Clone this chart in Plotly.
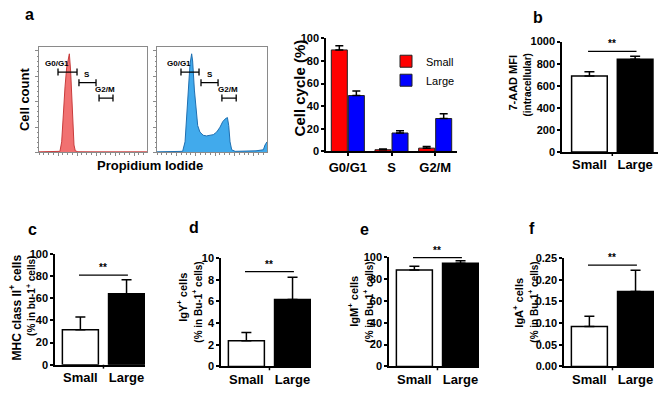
import plotly.graph_objects as go

# ---------------- data ----------------
# flow-cytometry histograms (PI axis 0-100, relative cell count 0-100)
hist_small_x = [0, 10, 18, 19.4, 21.0, 22.5, 24.1, 25.6, 27.2, 28.1, 29.3, 30.2, 31.2, 32.4, 33.6, 36, 50, 70, 100]
hist_small_y = [0.5, 0.5, 0.6, 1.0, 10, 37.6, 62, 80, 89.6, 93.3, 77, 53, 25.4, 7, 1.5, 0.6, 0.5, 0.5, 0.5]
hist_large_x = [0, 10, 20, 23.3, 25.5, 27, 28.5, 30, 31.5, 32.4, 34, 35.5, 37, 39, 42, 45, 48.2, 51.2, 54.3, 57.3,
                59.7, 61.8, 64, 65.2, 66.4, 67.9, 71, 80, 90, 96.7, 98.2, 100]
hist_large_y = [0.5, 0.5, 0.6, 1.0, 10, 34.6, 62, 83.5, 93.3, 86.5, 59, 37.6, 25.4, 19.3, 16.2, 15.6, 15.9, 16.8, 19.3, 23.9,
                29, 31.5, 33, 25.4, 10, 2.5, 1, 1.2, 1.5, 2.5, 7, 10]

gate_names = ["G0/G1", "S", "G2/M"]
gate_small_x0 = [17.6, 37.0, 55.6]
gate_small_x1 = [35.2, 52.8, 68.5]
gate_large_x0 = [21.8, 40.0, 59.0]
gate_large_x1 = [38.2, 55.5, 72.0]
gate_y = [76, 66, 51.4]

phases = ["G0/G1", "S", "G2/M"]
cycle_small = [89.7, 1.5, 2.9]
cycle_small_err = [3.7, 0.7, 1.4]
cycle_large = [49.4, 16.3, 29.1]
cycle_large_err = [4.0, 2.0, 4.3]

groups = ["Small", "Large"]
mfi = [688, 839]
mfi_err = [40, 29]
mhc = [31.5, 64.0]
mhc_err = [11.5, 12.7]
igy = [2.36, 6.18]
igy_err = [0.77, 2.06]
igm = [88.2, 94.4]
igm_err = [3.5, 2.3]
iga = [0.092, 0.173]
iga_err = [0.024, 0.049]
sig_levels = [912, 80.8, 8.75, 99.6, 0.2336]

# ---------------- layout helpers ----------------
W, H = 660, 394
FONT = "Arial, Liberation Sans, sans-serif"


def fx(p):
    return p / W


def fy(p):
    return 1 - p / H


fig = go.Figure()

# histograms
hist_colors = [("rgba(240,105,105,0.95)", "#c83c3c"), ("rgba(55,165,235,0.95)", "#1f6fb0")]
for i, (hx, hy, gx0, gx1) in enumerate([
        (hist_small_x, hist_small_y, gate_small_x0, gate_small_x1),
        (hist_large_x, hist_large_y, gate_large_x0, gate_large_x1)]):
    ax = "" if i == 0 else "2"
    fill, line = hist_colors[i]
    fig.add_trace(go.Scatter(x=hx, y=hy, mode="lines", fill="tozeroy", fillcolor=fill,
                             line=dict(color=line, width=1), showlegend=False,
                             xaxis="x" + ax, yaxis="y" + ax, hoverinfo="skip"))
    gxs, gys = [], []
    for a, b, yy in zip(gx0, gx1, gate_y):
        gxs += [a, b, None]
        gys += [yy, yy, None]
    fig.add_trace(go.Scatter(x=gxs, y=gys, mode="lines+markers",
                             line=dict(color="black", width=1.3),
                             marker=dict(symbol="line-ns-open", size=5, line=dict(color="black", width=1.3)),
                             showlegend=False, xaxis="x" + ax, yaxis="y" + ax, hoverinfo="skip"))
    for name, a, b, yy in zip(gate_names, gx0, gx1, gate_y):
        off = {"G0/G1": -10, "S": 0, "G2/M": -1}[name]
        fig.add_annotation(x=(a + b) / 2 + off, y=yy, xref="x" + ax, yref="y" + ax, text=name,
                           showarrow=False, yanchor="bottom", yshift=2,
                           font=dict(family=FONT, size=8, color="black", weight="bold"))

# cell cycle bars
fig.add_trace(go.Bar(x=phases, y=cycle_small, name="Small", marker=dict(color="#ff0000", line=dict(color="#202020", width=1)),
                     error_y=dict(type="data", array=cycle_small_err, arrayminus=[0] * 3, symmetric=False,
                                  color="black", thickness=1.5, width=4),
                     xaxis="x3", yaxis="y3"))
fig.add_trace(go.Bar(x=phases, y=cycle_large, name="Large", marker=dict(color="#0000ff", line=dict(color="#202020", width=1)),
                     error_y=dict(type="data", array=cycle_large_err, arrayminus=[0] * 3, symmetric=False,
                                  color="black", thickness=1.5, width=4),
                     xaxis="x3", yaxis="y3"))

panels = [
    (4, mfi, mfi_err),
    (5, mhc, mhc_err),
    (6, igy, igy_err),
    (7, igm, igm_err),
    (8, iga, iga_err),
]
for (n, vals, errs), sig in zip(panels, sig_levels):
    fig.add_trace(go.Bar(x=groups, y=vals, width=0.78, showlegend=False,
                         marker=dict(color=["white", "black"], line=dict(color="black", width=1.5)),
                         error_y=dict(type="data", array=errs, arrayminus=[0, 0], symmetric=False,
                                      color="black", thickness=1.5, width=5),
                         xaxis=f"x{n}", yaxis=f"y{n}"))
    # significance bracket and stars
    fig.add_shape(type="line", xref=f"x{n}", yref=f"y{n}", x0=-0.03, x1=1.03, y0=sig, y1=sig,
                  line=dict(color="black", width=1.3))
    fig.add_annotation(x=0.5, y=sig, xref=f"x{n}", yref=f"y{n}", text="**", showarrow=False,
                       yanchor="bottom", yshift=0, font=dict(family=FONT, size=10, color="black", weight="bold"))

# ---------------- axes ----------------
hist_common = dict(range=[0, 100], showline=True, mirror=True, linecolor="#8a8a8a", linewidth=1,
                   ticks="outside", ticklen=3, tickcolor="#8a8a8a", showticklabels=False,
                   showgrid=False, zeroline=False, fixedrange=True)
bar_x = dict(showline=True, linecolor="black", linewidth=1.5, ticks="", showgrid=False, zeroline=False,
             tickfont=dict(family=FONT, size=13, color="black", weight="bold"))
bar_y = dict(showline=True, linecolor="black", linewidth=1.5, ticks="outside", ticklen=3, tickwidth=1.5,
             tickcolor="black", showgrid=False, zeroline=False,
             tickfont=dict(family=FONT, size=11, color="black", weight="bold"))

doms = {
    1: ((39, 147), (42, 151)),
    2: ((157, 267), (42, 151)),
    3: ((326, 457), (33.3, 150)),
    4: ((562, 658), (36.7, 150.7)),
    5: ((55, 145), (255.7, 370)),
    6: ((221, 311), (260, 371.7)),
    7: ((389, 479), (259, 371.7)),
    8: ((564, 654), (260, 371.7)),
}
layout_axes = {}
for n, ((x0, x1), (y0, y1)) in doms.items():
    xk = "xaxis" if n == 1 else f"xaxis{n}"
    yk = "yaxis" if n == 1 else f"yaxis{n}"
    xd = [fx(x0), fx(x1)]
    yd = [fy(y1), fy(y0)]
    ya = "y" if n == 1 else f"y{n}"
    xa = "x" if n == 1 else f"x{n}"
    if n <= 2:
        layout_axes[xk] = dict(hist_common, domain=xd, anchor=ya, tickvals=[17.6, 35.2, 52.8, 70.4, 88],
                               minor=dict(ticks="outside", ticklen=1.5, tickcolor="#8a8a8a", tick0=0, dtick=4.4))
        layout_axes[yk] = dict(hist_common, domain=yd, anchor=xa, tickvals=[0, 24, 48, 72, 96],
                               minor=dict(ticks="outside", ticklen=1.5, tickcolor="#8a8a8a", tick0=0, dtick=4.8))
    elif n == 3:
        layout_axes[xk] = dict(bar_x, domain=xd, anchor=ya, ticks="outside", ticklen=3, tickwidth=1.5,
                               tickcolor="black", range=[-0.5, 2.5])
        layout_axes[yk] = dict(bar_y, domain=yd, anchor=xa, range=[0, 100], dtick=20)
    else:
        rng = [-0.6, 1.5] if n == 4 else [-0.55, 1.4]
        layout_axes[xk] = dict(bar_x, domain=xd, anchor=ya, range=rng)
        yr = {4: ([0, 1000], 200, None), 5: ([0, 100], 20, None), 6: ([0, 10], 2, None),
              7: ([0, 100], 20, None), 8: ([0, 0.25], 0.05, ".2f")}[n]
        yd_ = dict(bar_y, domain=yd, anchor=xa, range=yr[0], dtick=yr[1])
        if yr[2]:
            yd_["tickformat"] = yr[2]
        layout_axes[yk] = yd_
        # middle tick between the two bars
        fig.add_shape(type="line", xref=xa, yref="paper", x0=0.5, x1=0.5, y0=fy(y1), y1=fy(y1 + 4),
                      line=dict(color="black", width=1.5))

fig.update_layout(**layout_axes)

# ---------------- texts ----------------
def txt(x, y, s, size, angle=0, weight="bold", xanchor="center", yanchor="middle"):
    fig.add_annotation(x=fx(x), y=fy(y), xref="paper", yref="paper", text=s, showarrow=False,
                       textangle=angle, xanchor=xanchor, yanchor=yanchor,
                       font=dict(family=FONT, size=size, color="black", weight=weight))


for lbl, x, y in [("a", 29, 9), ("b", 538, 12), ("c", 32, 231), ("d", 194, 228), ("e", 364, 231), ("f", 532, 229)]:
    txt(x, y, lbl, 16)

txt(24, 96, "Cell count", 13, -90)
txt(150, 164, "Propidium Iodide", 13)
txt(299, 85, "Cell cycle (%)", 15, -90)
txt(513, 79, "7-AAD MFI", 11, -90)
txt(528, 82, "(intracellular)", 10, -90)
txt(15, 311, "MHC class II<sup>+</sup> cells", 12, -90)
txt(31, 299, "(% in bu-1<sup>+</sup> cells)", 10, -90)
txt(182, 301, "IgY<sup>+</sup> cells", 11, -90)
txt(197, 306, "(% in Bu-1<sup>+</sup> cells)", 10, -90)
txt(353, 304, "IgM<sup>+</sup> cells", 11, -90)
txt(368, 306, "(% in Bu-1<sup>+</sup> cells)", 10, -90)
txt(518, 306, "IgA<sup>+</sup> cells", 11, -90)
txt(533, 306, "(% in Bu-1<sup>+</sup> cells)", 10, -90)

fig.update_layout(
    width=W, height=H, margin=dict(l=0, r=0, t=0, b=0),
    paper_bgcolor="white", plot_bgcolor="white",
    barmode="group", bargap=0.22, bargroupgap=0.06,
    showlegend=True,
    legend=dict(x=fx(386), y=fy(42), xanchor="left", yanchor="top", bgcolor="rgba(0,0,0,0)",
                font=dict(family=FONT, size=11, color="black"), itemwidth=30, tracegroupgap=0),
)

fig.write_html("out.html", config={"displayModeBar": False},
               post_script="document.body.style.margin='0px';")
